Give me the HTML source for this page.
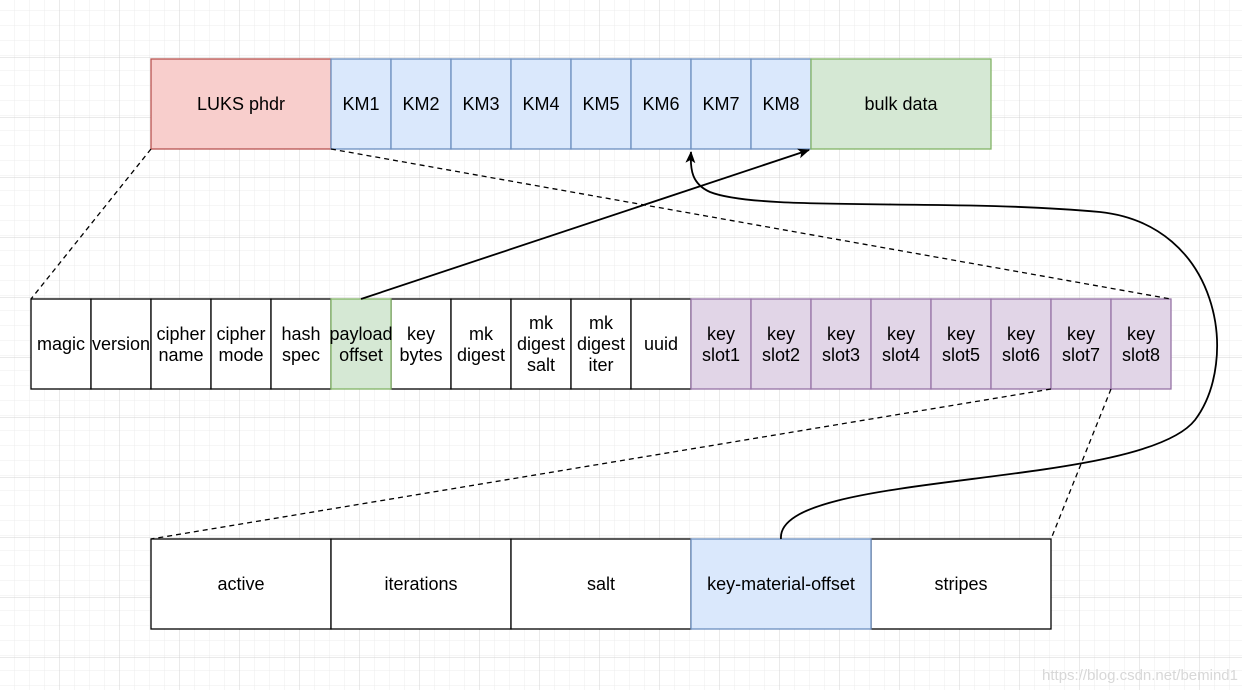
<!DOCTYPE html>
<html><head><meta charset="utf-8"><style>
html,body{margin:0;padding:0;background:#fff;}
svg{display:block;font-family:"Liberation Sans",Arial,sans-serif;}
</style></head><body>
<svg width="1242" height="690" viewBox="0 0 1242 690" xmlns="http://www.w3.org/2000/svg">
<defs>
<pattern id="mn" width="15" height="15" patternUnits="userSpaceOnUse" x="0" y="-2"><path d="M15 0V15M0 15H15" stroke="#ececec" stroke-width="1" fill="none"/></pattern>
<pattern id="mj" width="60" height="60" patternUnits="userSpaceOnUse" x="0" y="-2"><rect width="60" height="60" fill="url(#mn)"/><path d="M60 0V60M0 60H60" stroke="#d4d4d4" stroke-width="1" fill="none"/></pattern>
<marker id="ar" markerWidth="14" markerHeight="14" refX="11" refY="6" orient="auto" markerUnits="userSpaceOnUse"><path d="M0,1 L12,6 L0,11 L3,6z" fill="#000"/></marker>
</defs>
<rect width="1242" height="690" fill="url(#mj)"/>
<g stroke-width="1.3">
<rect x="151" y="59" width="180" height="90" fill="#f8cecc" stroke="#b85450"/>
<g fill="#dae8fc" stroke="#6c8ebf">
<rect x="331" y="59" width="60" height="90"/><rect x="391" y="59" width="60" height="90"/><rect x="451" y="59" width="60" height="90"/><rect x="511" y="59" width="60" height="90"/><rect x="571" y="59" width="60" height="90"/><rect x="631" y="59" width="60" height="90"/><rect x="691" y="59" width="60" height="90"/><rect x="751" y="59" width="60" height="90"/>
</g>
<rect x="811" y="59" width="180" height="90" fill="#d5e8d4" stroke="#82b366"/>
<g fill="#fff" stroke="#000">
<rect x="31" y="299" width="60" height="90"/><rect x="91" y="299" width="60" height="90"/><rect x="151" y="299" width="60" height="90"/><rect x="211" y="299" width="60" height="90"/><rect x="271" y="299" width="60" height="90"/>
<rect x="391" y="299" width="60" height="90"/><rect x="451" y="299" width="60" height="90"/><rect x="511" y="299" width="60" height="90"/><rect x="571" y="299" width="60" height="90"/><rect x="631" y="299" width="60" height="90"/>
</g>
<rect x="331" y="299" width="60" height="90" fill="#d5e8d4" stroke="#82b366"/>
<g fill="#e1d5e7" stroke="#9673a6">
<rect x="691" y="299" width="60" height="90"/><rect x="751" y="299" width="60" height="90"/><rect x="811" y="299" width="60" height="90"/><rect x="871" y="299" width="60" height="90"/><rect x="931" y="299" width="60" height="90"/><rect x="991" y="299" width="60" height="90"/><rect x="1051" y="299" width="60" height="90"/><rect x="1111" y="299" width="60" height="90"/>
</g>
<g fill="#fff" stroke="#000">
<rect x="151" y="539" width="180" height="90"/><rect x="331" y="539" width="180" height="90"/><rect x="511" y="539" width="180" height="90"/><rect x="871" y="539" width="180" height="90"/>
</g>
<rect x="691" y="539" width="180" height="90" fill="#dae8fc" stroke="#6c8ebf"/>
</g>
<g stroke="#000" stroke-width="1.3" stroke-dasharray="5,4" fill="none">
<line x1="151" y1="149" x2="31" y2="299"/>
<line x1="331" y1="149" x2="1171" y2="299"/>
<line x1="1051" y1="389" x2="151" y2="539"/>
<line x1="1111" y1="389" x2="1051" y2="539"/>
</g>
<g stroke="#000" stroke-width="1.8" fill="none">
<line x1="361" y1="299" x2="809" y2="150" marker-end="url(#ar)"/>
<path d="M781,539 C775,470 1140,490 1195,420 C1240,360 1220,225 1100,212 C950,198 760,212 710,192 C692,184 690,170 691,152" marker-end="url(#ar)"/>
</g>
<g font-size="18" fill="#000" text-anchor="middle">
<text x="241" y="110">LUKS phdr</text>
<text x="361" y="110">KM1</text><text x="421" y="110">KM2</text><text x="481" y="110">KM3</text><text x="541" y="110">KM4</text><text x="601" y="110">KM5</text><text x="661" y="110">KM6</text><text x="721" y="110">KM7</text><text x="781" y="110">KM8</text>
<text x="901" y="110">bulk data</text>
<text x="61" y="350">magic</text><text x="121" y="350">version</text>
<text x="181" y="340">cipher</text><text x="181" y="361">name</text>
<text x="241" y="340">cipher</text><text x="241" y="361">mode</text>
<text x="301" y="340">hash</text><text x="301" y="361">spec</text>
<text x="361" y="340">payload</text><text x="361" y="361">offset</text>
<text x="421" y="340">key</text><text x="421" y="361">bytes</text>
<text x="481" y="340">mk</text><text x="481" y="361">digest</text>
<text x="541" y="329">mk</text><text x="541" y="350">digest</text><text x="541" y="371">salt</text>
<text x="601" y="329">mk</text><text x="601" y="350">digest</text><text x="601" y="371">iter</text>
<text x="661" y="350">uuid</text>
<text x="721" y="340">key</text><text x="721" y="361">slot1</text>
<text x="781" y="340">key</text><text x="781" y="361">slot2</text>
<text x="841" y="340">key</text><text x="841" y="361">slot3</text>
<text x="901" y="340">key</text><text x="901" y="361">slot4</text>
<text x="961" y="340">key</text><text x="961" y="361">slot5</text>
<text x="1021" y="340">key</text><text x="1021" y="361">slot6</text>
<text x="1081" y="340">key</text><text x="1081" y="361">slot7</text>
<text x="1141" y="340">key</text><text x="1141" y="361">slot8</text>
<text x="241" y="590">active</text><text x="421" y="590">iterations</text><text x="601" y="590">salt</text><text x="781" y="590">key-material-offset</text><text x="961" y="590">stripes</text>
</g>
<text x="1238" y="680" font-size="15" fill="#d8d8d8" text-anchor="end">https://blog.csdn.net/bemind1</text>
</svg>
</body></html>
